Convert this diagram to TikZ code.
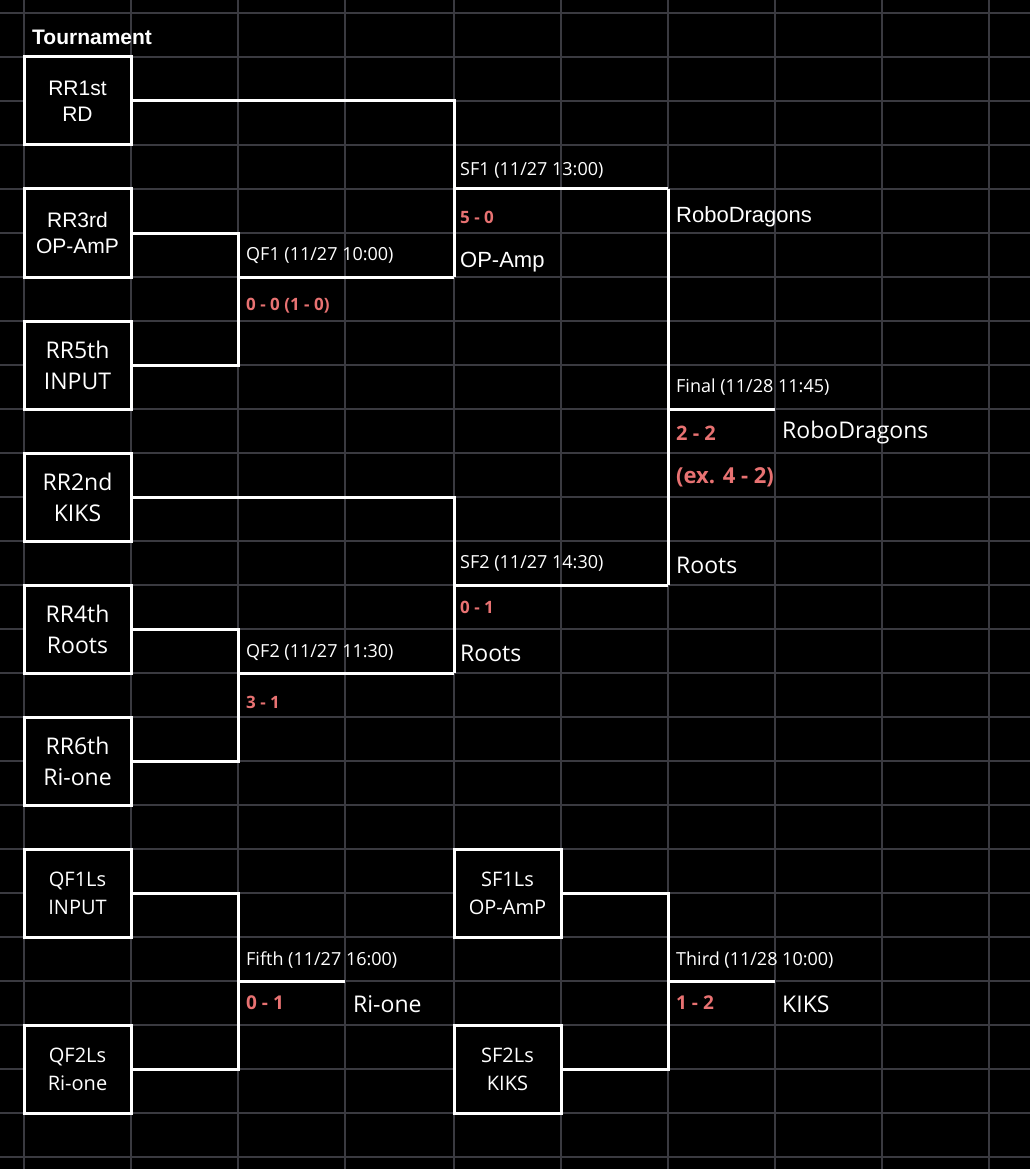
\documentclass[tikz,border=0pt]{standalone}
\usepackage{fontspec}
\setmainfont{Open Sans}
\newfontfamily\arialf{Liberation Sans}
\definecolor{gridc}{HTML}{3A3A40}
\definecolor{sc}{HTML}{E87272}
\begin{document}
\begin{tikzpicture}[x=1pt,y=-1pt,
  box/.style={draw=white,line width=3pt,minimum width=107pt,minimum height=88pt,inner sep=0pt,align=center,text=white,font=\fontsize{23}{31}\selectfont},
  br/.style={draw=white,line width=3pt},
  lab/.style={anchor=west,text=white,inner sep=0pt,font=\fontsize{18}{20}\selectfont},
  scr/.style={anchor=west,text=sc,inner sep=0pt,font=\bfseries\fontsize{17}{19}\selectfont},
  team/.style={anchor=west,text=white,inner sep=0pt,font=\fontsize{23}{26}\selectfont}]
\fill[black] (0,0) rectangle (1030,1169);
\useasboundingbox (0,0) rectangle (1030,1169);
\foreach \x in {24,131,238,345,454,561,668,775,882,989} \draw[gridc,line width=1.2pt] (\x,0)--(\x,1169);
\foreach \i in {0,...,26} \draw[gridc,line width=1.2pt] (0,13+44*\i)--(1030,13+44*\i);
\node[anchor=west,text=white,inner sep=0pt,font=\arialf\bfseries\fontsize{21}{22}\selectfont] (t) at (32,37) {Tournament};
\node[box,fill=black,font=\arialf\fontsize{21}{26}\selectfont] (a) at (77.5,101) {RR1st\\RD};
\node[box,fill=black,font=\arialf\fontsize{21}{26}\selectfont] (b) at (77.5,233) {RR3rd\\OP-AmP};
\node[box,fill=black] (c) at (77.5,365) {RR5th\\INPUT};
\node[box,fill=black] (d) at (77.5,497) {RR2nd\\KIKS};
\node[box,fill=black] (e) at (77.5,629) {RR4th\\Roots};
\node[box,fill=black] (f) at (77.5,761) {RR6th\\Ri-one};
\node[box,fill=black,font=\fontsize{20}{28}\selectfont] (g) at (77.5,893) {QF1Ls\\INPUT};
\node[box,fill=black,font=\fontsize{20}{28}\selectfont] (h) at (77.5,1069) {QF2Ls\\Ri-one};
\node[box,fill=black,font=\fontsize{20}{28}\selectfont] (i) at (507.5,893) {SF1Ls\\OP-AmP};
\node[box,fill=black,font=\fontsize{20}{28}\selectfont] (j) at (507.5,1069) {SF2Ls\\KIKS};
\coordinate (q1) at (238,277); \coordinate (s1) at (454,189);
\coordinate (q2) at (238,673); \coordinate (s2) at (454,585);
\coordinate (fi) at (668,409); \coordinate (f5) at (238,981); \coordinate (th) at (668,981);
\draw[br] (b.east) -| (238,233) |- (c.east);
\draw[br] (q1) -- (454,277);
\draw[br] (a.east) -| (454,101) -- (454,277);
\draw[br] (s1) -- (668,189);
\draw[br] (e.east) -| (238,629) |- (f.east);
\draw[br] (q2) -- (454,673);
\draw[br] (d.east) -| (454,497) -- (454,673);
\draw[br] (s2) -- (668,585);
\draw[br] (668,189) -- (668,585);
\draw[br] (fi) -- (775,409);
\draw[br] (g.east) -| (238,893) |- (h.east);
\draw[br] (f5) -- (345,981);
\draw[br] (i.east) -| (668,893) |- (j.east);
\draw[br] (th) -- (775,981);
\node[lab] at (460,170) {SF1 (11/27 13:00)};
\node[scr] at (460,217) {5 - 0};
\node[team,font=\arialf\fontsize{22}{24}\selectfont] at (460,262) {OP-Amp};
\node[team,font=\arialf\fontsize{22}{24}\selectfont] at (676,217) {RoboDragons};
\node[lab] at (246,256) {QF1 (11/27 10:00)};
\node[scr] at (246,306) {0 - 0 (1 - 0)};
\node[lab] at (676,387) {Final (11/28 11:45)};
\node[scr,font=\bfseries\fontsize{20}{22}\selectfont] at (676,433) {2 - 2};
\node[team] at (782,433) {RoboDragons};
\node[scr,font=\bfseries\fontsize{22}{24}\selectfont] at (676,477) {(ex. 4 - 2)};
\node[lab] at (460,563) {SF2 (11/27 14:30)};
\node[team] at (676,565) {Roots};
\node[scr] at (460,607) {0 - 1};
\node[lab] at (246,652) {QF2 (11/27 11:30)};
\node[team] at (460,653) {Roots};
\node[scr] at (246,702) {3 - 1};
\node[lab] at (246,960) {Fifth (11/27 16:00)};
\node[scr,font=\bfseries\fontsize{19}{20}\selectfont] at (246,1003) {0 - 1};
\node[team] at (353,1004) {Ri-one};
\node[lab] at (676,960) {Third (11/28 10:00)};
\node[scr,font=\bfseries\fontsize{19}{20}\selectfont] at (676,1003) {1 - 2};
\node[team] at (782,1004) {KIKS};
\end{tikzpicture}
\end{document}
